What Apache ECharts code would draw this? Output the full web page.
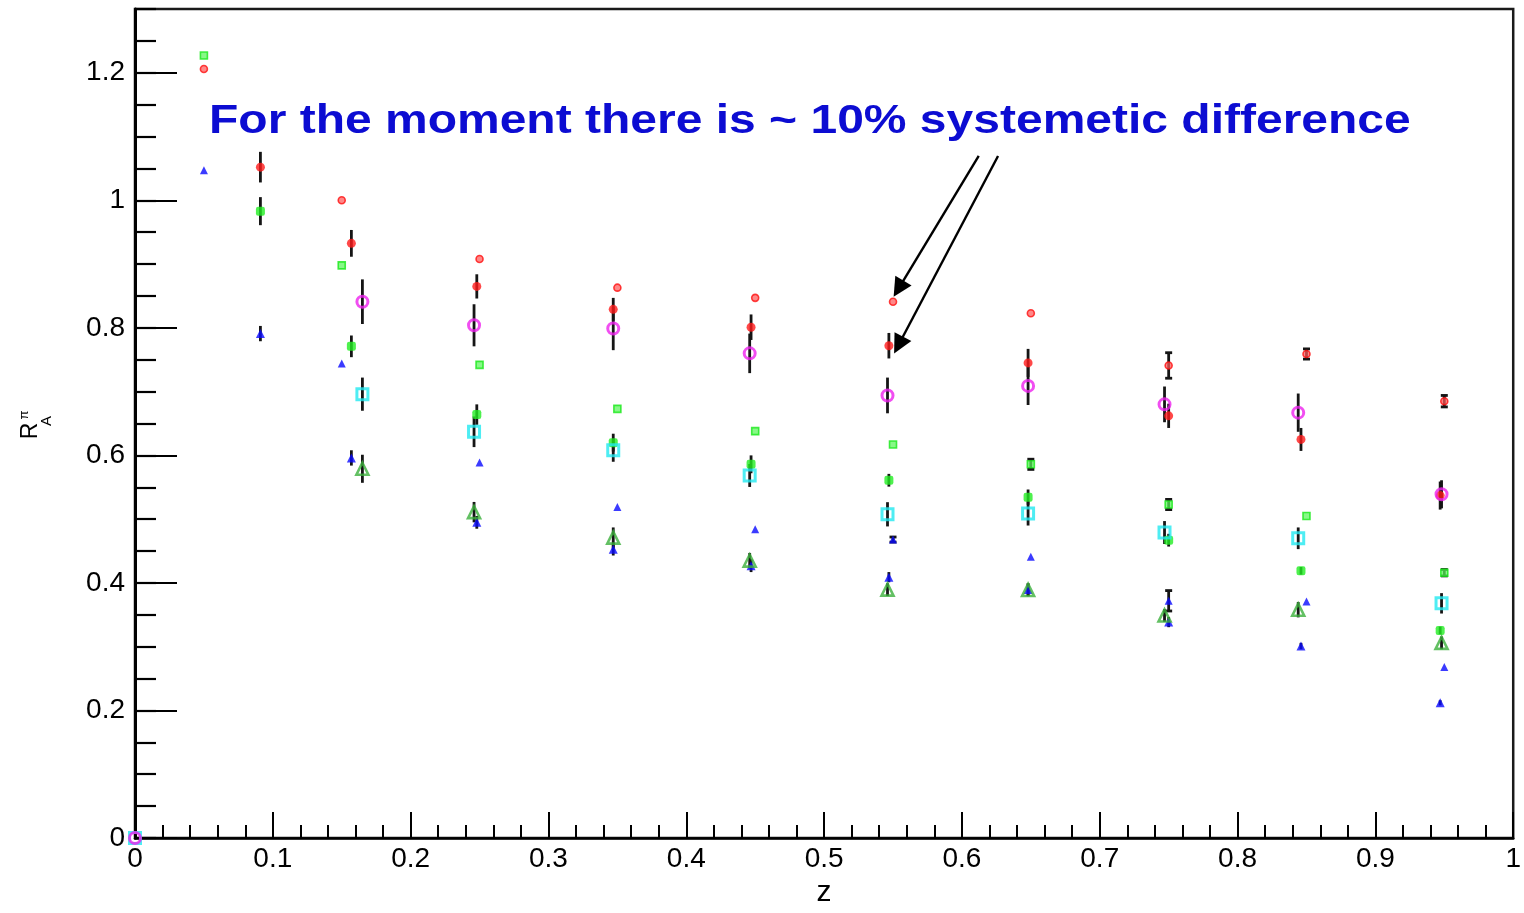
<!DOCTYPE html>
<html>
<head>
<meta charset="utf-8">
<script src="https://cdn.jsdelivr.net/npm/echarts@6/dist/echarts.min.js"></script>
<style>
  html, body { margin: 0; padding: 0; background: #fff; overflow: hidden; }
  #chart { width: 1524px; height: 913px; }
</style>
</head>
<body>
<div id="chart"></div>
<script>
// z positions of the three point sets
const zModel = [0.05, 0.15, 0.25, 0.35, 0.45, 0.55, 0.65, 0.75, 0.85, 0.95];
const zDataB = [0.091, 0.157, 0.248, 0.347, 0.447, 0.547, 0.648, 0.750, 0.846, 0.947];
const zDataC = [0.0, 0.165, 0.246, 0.347, 0.446, 0.546, 0.648, 0.747, 0.844, 0.948];

// small open markers (bin centres)
const modelRed       = [1.206, 1.000, 0.908, 0.863, 0.847, 0.841, 0.823, 0.741, 0.759, 0.685];
const modelRedErr    = [0, 0, 0, 0, 0, 0, 0, 0.020, 0.008, 0.009];
const modelGreen     = [1.227, 0.898, 0.742, 0.673, 0.638, 0.617, 0.586, 0.523, 0.505, 0.416];
const modelGreenErr  = [0, 0, 0, 0, 0, 0, 0.008, 0.008, 0, 0.005];
const modelBlue      = [1.047, 0.744, 0.589, 0.519, 0.484, 0.468, 0.441, 0.372, 0.371, 0.268];
const modelBlueErr   = [0, 0, 0, 0, 0, 0.004, 0, 0.016, 0, 0];

// filled markers with error bars
const dataRed        = [1.052, 0.9325, 0.865, 0.829, 0.801, 0.772, 0.745, 0.662, 0.625, 0.537];
const dataRedErr     = [0.024, 0.021, 0.019, 0.018, 0.020, 0.020, 0.022, 0.019, 0.018, 0.022];
const dataGreen      = [0.983, 0.771, 0.664, 0.620, 0.586, 0.561, 0.5345, 0.467, 0.419, 0.3255];
const dataGreenErr   = [0.022, 0.017, 0.016, 0.014, 0.014, 0.010, 0.012, 0.010, 0.006, 0.006];
const dataBlue       = [0.791, 0.596, 0.495, 0.453, 0.427, 0.409, 0.3895, 0.3386, 0.301, 0.212];
const dataBlueErr    = [0.012, 0.012, 0.010, 0.010, 0.010, 0.008, 0.010, 0.008, 0.005, 0.004];

// open markers with error bars
const setMagenta     = [0, 0.841, 0.804, 0.799, 0.760, 0.694, 0.709, 0.680, 0.667, 0.539];
const setMagentaErr  = [0, 0.035, 0.033, 0.034, 0.031, 0.028, 0.030, 0.028, 0.030, 0.022];
const setCyan        = [0, 0.696, 0.637, 0.608, 0.5685, 0.5076, 0.509, 0.479, 0.470, 0.368];
const setCyanErr     = [0, 0.026, 0.024, 0.018, 0.018, 0.019, 0.019, 0.018, 0.017, 0.016];
const setOlive       = [null, 0.579, 0.511, 0.471, 0.435, 0.3895, 0.389, 0.349, 0.358, 0.306];
const setOliveErr    = [0, 0.022, 0.016, 0.016, 0.012, 0.010, 0.010, 0.010, 0.012, 0.010];

// axis ticks
const xMajorStep = 0.1, xMinorStep = 0.02;
const yMajorStep = 0.2, yMinorStep = 0.05;
const yTop = 1.3;

// arrows from the note down to the 0.55 bin
const arrowFrom = [[0.6122, 1.0695], [0.6262, 1.0695]];
const arrowTo   = [[0.554, 0.8614], [0.554, 0.773]];

const noteText = 'For the moment there is ~ 10% systemetic difference';

const FONT = '"Liberation Sans", Arial, Helvetica, sans-serif';

function points(zs, ys) {
  const out = [];
  zs.forEach((z, i) => { if (ys[i] != null) out.push([z, ys[i]]); });
  return out;
}
function withErr(zs, ys, es) {
  const out = [];
  zs.forEach((z, i) => { if (ys[i] != null && es[i] > 0) out.push([z, ys[i], es[i]]); });
  return out;
}

function errorBars(name, rows, capped) {
  return {
    type: 'custom',
    name: name,
    data: rows,
    encode: { x: 0, y: 1 },
    z: 1,
    silent: true,
    renderItem: function (params, api) {
      const z = api.value(0), y = api.value(1), e = api.value(2);
      const hi = api.coord([z, y + e]);
      const lo = api.coord([z, y - e]);
      const stroke = { stroke: '#151515', lineWidth: 2.8 };
      const children = [{
        type: 'line',
        shape: { x1: hi[0], y1: hi[1], x2: lo[0], y2: lo[1] },
        style: stroke
      }];
      if (capped) {
        children.push({ type: 'line', shape: { x1: hi[0] - 3.5, y1: hi[1], x2: hi[0] + 3.5, y2: hi[1] }, style: stroke });
        children.push({ type: 'line', shape: { x1: lo[0] - 3.5, y1: lo[1], x2: lo[0] + 3.5, y2: lo[1] }, style: stroke });
      }
      return { type: 'group', children: children };
    }
  };
}

function scatter(name, data, symbol, size, itemStyle, z, extra) {
  return Object.assign({
    type: 'scatter',
    name: name,
    data: data,
    symbol: symbol,
    symbolSize: size,
    itemStyle: itemStyle,
    z: z,
    silent: true,
    emphasis: { disabled: true }
  }, extra || {});
}

const chart = echarts.init(document.getElementById('chart'), null, { renderer: 'canvas' });

const axisLabelStyle = { color: '#000', fontSize: 28, fontFamily: FONT };

const option = {
  backgroundColor: '#fff',
  animation: false,
  grid: {
    left: 135, right: 7, top: 9, bottom: 71,
    show: true, borderColor: '#1a1a1a', borderWidth: 2.5, backgroundColor: 'transparent'
  },
  xAxis: [
    {
      type: 'value', min: 0, max: 1, interval: xMajorStep, position: 'bottom',
      name: 'z', nameLocation: 'middle', nameGap: 40,
      nameTextStyle: { color: '#000', fontSize: 30, fontFamily: FONT },
      axisLine: { show: true, lineStyle: { color: '#000', width: 2.5 } },
      axisTick: { show: true, inside: true, length: 26, lineStyle: { color: '#000', width: 2 } },
      axisLabel: Object.assign({ margin: 7, formatter: v => String(+v.toFixed(2)) }, axisLabelStyle),
      splitLine: { show: false }
    },
    {
      type: 'value', min: 0, max: 1, interval: xMinorStep, position: 'bottom',
      axisLine: { show: false },
      axisTick: { show: true, inside: true, length: 13, lineStyle: { color: '#000', width: 2 } },
      axisLabel: { show: false },
      splitLine: { show: false }
    }
  ],
  yAxis: [
    {
      type: 'value', min: 0, max: yTop, interval: yMajorStep, position: 'left',
      axisLine: { show: true, lineStyle: { color: '#000', width: 3 } },
      axisTick: { show: true, inside: true, length: 42, lineStyle: { color: '#000', width: 2.2 } },
      axisLabel: Object.assign({ margin: 10, showMaxLabel: false, formatter: v => String(+v.toFixed(2)) }, axisLabelStyle),
      splitLine: { show: false }
    },
    {
      type: 'value', min: 0, max: yTop, interval: yMinorStep, position: 'left',
      axisLine: { show: false },
      axisTick: { show: true, inside: true, length: 21, lineStyle: { color: '#000', width: 2.2 } },
      axisLabel: { show: false },
      splitLine: { show: false }
    }
  ],
  graphic: [
    {
      type: 'text', x: 209, y: 122, scaleX: 1.2, z: 10, silent: true,
      style: { text: noteText, font: 'bold 40px ' + FONT, fill: '#0c0cd2', align: 'left', verticalAlign: 'middle' }
    },
    {
      type: 'text', x: 31, y: 431, rotation: Math.PI / 2, silent: true,
      style: { text: 'R', font: '23px ' + FONT, fill: '#000', align: 'center', verticalAlign: 'middle' }
    },
    {
      type: 'text', x: 47, y: 421, rotation: Math.PI / 2, silent: true,
      style: { text: 'A', font: '15px ' + FONT, fill: '#000', align: 'center', verticalAlign: 'middle' }
    },
    {
      type: 'text', x: 24, y: 415, rotation: Math.PI / 2, silent: true,
      style: { text: 'π', font: '13px ' + FONT, fill: '#000', align: 'center', verticalAlign: 'middle' }
    }
  ],
  series: [
    errorBars('modelRedErr', withErr(zModel, modelRed, modelRedErr), true),
    errorBars('modelGreenErr', withErr(zModel, modelGreen, modelGreenErr), true),
    errorBars('modelBlueErr', withErr(zModel, modelBlue, modelBlueErr), true),
    errorBars('dataRedErr', withErr(zDataB, dataRed, dataRedErr), false),
    errorBars('dataGreenErr', withErr(zDataB, dataGreen, dataGreenErr), false),
    errorBars('dataBlueErr', withErr(zDataB, dataBlue, dataBlueErr), false),
    errorBars('setMagentaErr', withErr(zDataC, setMagenta, setMagentaErr), false),
    errorBars('setCyanErr', withErr(zDataC, setCyan, setCyanErr), false),
    errorBars('setOliveErr', withErr(zDataC, setOlive, setOliveErr), false),

    scatter('modelRed', points(zModel, modelRed), 'circle', 7,
      { color: 'rgba(255,90,90,0.9)', borderColor: '#ff1010', borderWidth: 1.6 }, 3,
      {
        markLine: {
          silent: true,
          symbol: ['none', 'triangle'],
          symbolSize: 19,
          label: { show: false },
          emphasis: { disabled: true },
          itemStyle: { color: '#000' },
          lineStyle: { color: '#000', width: 2.4, type: 'solid' },
          data: arrowFrom.map((p, i) => [{ coord: p }, { coord: arrowTo[i] }])
        }
      }),
    scatter('modelGreen', points(zModel, modelGreen), 'rect', 7,
      { color: 'rgba(90,245,90,0.9)', borderColor: '#18e818', borderWidth: 1.6 }, 3),
    scatter('modelBlue', points(zModel, modelBlue), 'triangle', 8,
      { color: '#0a0aff' }, 3),

    scatter('dataRed', points(zDataB, dataRed), 'circle', 9, { color: '#ff1a1a' }, 4),
    scatter('dataGreen', points(zDataB, dataGreen), 'roundRect', 9, { color: '#22ee22' }, 4),
    scatter('dataBlue', points(zDataB, dataBlue), 'triangle', 9, { color: '#0a0aff' }, 4),

    scatter('setOlive', points(zDataC, setOlive), 'triangle', 12,
      { color: 'rgba(0,0,0,0)', borderColor: '#3cb03c', borderWidth: 2.6 }, 5),
    scatter('setCyan', points(zDataC, setCyan), 'rect', 11,
      { color: 'rgba(0,0,0,0)', borderColor: '#22e8f0', borderWidth: 3 }, 5),
    scatter('setMagenta', points(zDataC, setMagenta), 'circle', 11,
      { color: 'rgba(0,0,0,0)', borderColor: '#ee22ee', borderWidth: 3 }, 6)
  ]
};

chart.setOption(option);
</script>
</body>
</html>
